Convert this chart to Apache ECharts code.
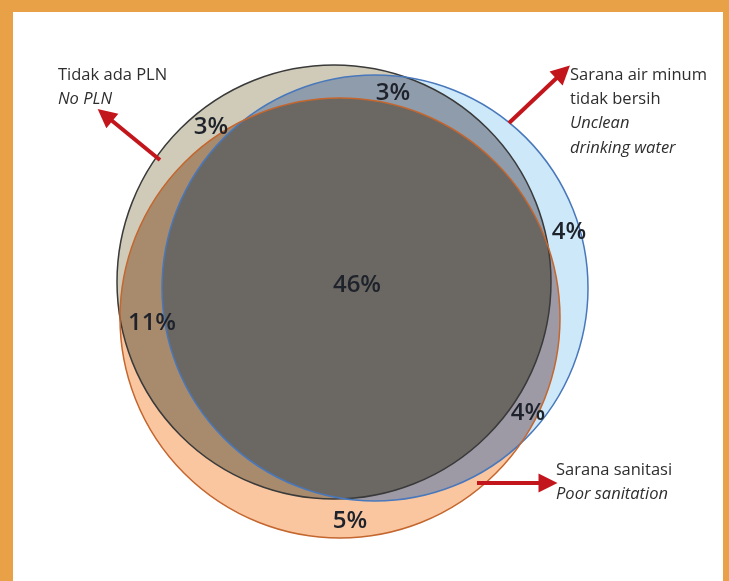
<!DOCTYPE html>
<html><head><meta charset="utf-8">
<script src="https://cdn.jsdelivr.net/npm/echarts@6/dist/echarts.min.js"></script>
<style>html,body{margin:0;padding:0;background:#fff}#c{width:729px;height:581px}</style>
</head><body><div id="c"></div>
<script>
// Venn sets (layout in chart units)
const setNames = ['Tidak ada PLN', 'Sarana air minum tidak bersih', 'Sarana sanitasi'];
const setCx = [334, 375, 340];
const setCy = [282, 288, 318];
const setR = [217, 213, 220];
// region share labels
const regionText = ['46%', '3%', '3%', '4%', '11%', '4%', '5%'];
const regionX = [357, 393, 211, 569, 152, 528, 350];
const regionY = [285, 93, 127, 232, 323, 413, 521];
// callouts
const calloutLines = [
  ['Tidak ada PLN', 'No PLN'],
  ['Sarana air minum', 'tidak bersih', 'Unclean', 'drinking water'],
  ['Sarana sanitasi', 'Poor sanitation']
];
const calloutItalicFrom = [1, 2, 1];
const calloutX = [58, 570, 556];
const calloutY = [75, 75, 470];
const arrowFrom = [[160, 160], [509, 123], [477, 483]];
const arrowTo = [[105, 115], [563, 72], [548, 483]];

const singleColors = ['#cfcbb8', '#cde8f8', '#f9c6a0'];
const pairs = [[0, 2], [0, 1], [1, 2]];
const pairColors = ['#a88b6d', '#8f9cab', '#9d9aa6'];
const tripleColor = '#6b6863';
const strokeColors = ['#3a3a3a', '#4878bb', '#c4662e'];

function circ(api, i) {
  const c = api.coord([setCx[i], setCy[i]]);
  const r = api.size([setR[i], 0])[0];
  return { cx: c[0], cy: c[1], r: r };
}

const chart = echarts.init(document.getElementById('c'), null, { renderer: 'canvas' });
chart.setOption({
  backgroundColor: '#e9a147',
  animation: false,
  grid: { left: 0, right: 0, top: 0, bottom: 0 },
  xAxis: { type: 'value', min: 0, max: 729, show: false },
  yAxis: { type: 'value', min: 0, max: 581, inverse: true, show: false },
  graphic: [{ type: 'rect', left: 13, top: 12, shape: { width: 710, height: 580 }, style: { fill: '#ffffff' }, z: -10 }],
  series: [
    { type: 'custom', z: 1, data: setNames.map((n, i) => [i]),
      renderItem: (p, api) => ({ type: 'circle', shape: circ(api, p.dataIndex), style: { fill: singleColors[p.dataIndex] } }) },
    { type: 'custom', z: 2, data: pairs.map((pr, i) => [i]),
      renderItem: (p, api) => {
        const pr = pairs[p.dataIndex];
        return { type: 'circle', shape: circ(api, pr[0]), style: { fill: pairColors[p.dataIndex] },
          clipPath: { type: 'circle', shape: circ(api, pr[1]) } };
      } },
    { type: 'custom', z: 3, data: [[0]],
      renderItem: (p, api) => ({ type: 'group', clipPath: { type: 'circle', shape: circ(api, 2) },
        children: [{ type: 'circle', shape: circ(api, 0), style: { fill: tripleColor },
          clipPath: { type: 'circle', shape: circ(api, 1) } }] }) },
    { type: 'custom', z: 4, data: setNames.map((n, i) => [i]),
      renderItem: (p, api) => ({ type: 'circle', shape: circ(api, p.dataIndex),
        style: { fill: 'none', stroke: strokeColors[p.dataIndex], lineWidth: 1.5 } }) },
    { type: 'custom', z: 5, data: regionText.map((t, i) => [regionX[i], regionY[i]]),
      renderItem: (p, api) => {
        const c = api.coord([api.value(0), api.value(1)]);
        return { type: 'text', x: c[0], y: c[1], style: { text: regionText[p.dataIndex], fill: '#1e222b',
          font: '600 24px "Open Sans"', align: 'center', verticalAlign: 'middle' } };
      } },
    { type: 'custom', z: 5, data: calloutLines.map((l, i) => [calloutX[i], calloutY[i]]),
      renderItem: (p, api) => {
        const i = p.dataIndex;
        const c = api.coord([api.value(0), api.value(1)]);
        return { type: 'group', children: calloutLines[i].map((t, k) => ({ type: 'text', x: c[0], y: c[1] + k * 24.3,
          style: { text: t, fill: '#2e2e2e', font: (k >= calloutItalicFrom[i] ? 'italic ' : '') + '16.5px "Open Sans"',
            align: 'left', verticalAlign: 'middle' } })) };
      } },
    { type: 'lines', coordinateSystem: 'cartesian2d', z: 6, polyline: false,
      symbol: ['none', 'triangle'], symbolSize: [19, 19],
      lineStyle: { color: '#c3161c', width: 4, opacity: 1 },
      data: arrowFrom.map((f, i) => ({ coords: [f, arrowTo[i]] })) }
  ]
});
</script></body></html>
